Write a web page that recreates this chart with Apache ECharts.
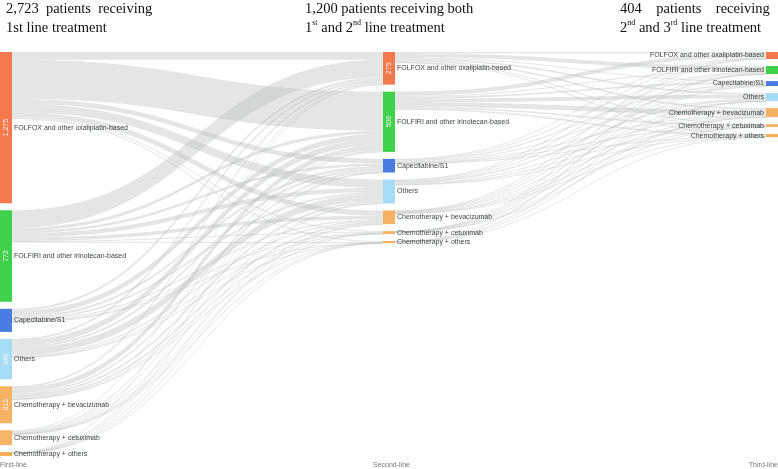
<!DOCTYPE html>
<html>
<head>
<meta charset="utf-8">
<script src="https://cdn.jsdelivr.net/npm/echarts@6/dist/echarts.min.js"></script>
<style>html,body{margin:0;padding:0;background:#fff;}#c{width:778px;height:469px;}</style>
</head>
<body>
<div id="c"></div>
<script>
// Categories (same for each line of treatment)
var categories = [
  "FOLFOX and other oxaliplatin-based",
  "FOLFIRI and other irinotecan-based",
  "Capecitabine/S1",
  "Others",
  "Chemotherapy + bevacizumab",
  "Chemotherapy + cetuximab",
  "Chemotherapy + others"
];
var categoryColors = ["#f47a4d", "#3fd14c", "#4a7de0", "#a6dcf6", "#f6b264", "#f6b466", "#f5ae52"];
var lineNames = ["First-line", "Second-line", "Third-line"];

// Node totals per line
var firstLineValues = [1275, 772, 195, 340, 312, 125, 33];
// Printed values inside nodes
var firstLineLabels = ["1,275", "772", "", "340", "312", "", ""];
var secondLineLabels = ["275", "506", "", "", "", "", ""];
var thirdLineLabels = ["", "", "", "", "", "", ""];

// Flows first line -> second line (rows: first-line category, cols: second-line category)
var flows12 = [
  [65, 330, 40, 70, 45, 8, 7],
  [150, 25, 20, 35, 30, 5, 3],
  [20, 45, 20, 15, 10, 2, 1],
  [15, 50, 15, 60, 10, 3, 2],
  [15, 45, 15, 15, 15, 3, 2],
  [8, 10, 4, 5, 4, 4, 1],
  [2, 3, 1, 2, 1, 0, 1]
];
// Flows second line -> third line
var flows23 = [
  [10, 35, 8, 15, 15, 4, 4],
  [35, 10, 15, 30, 40, 12, 12],
  [5, 8, 10, 5, 5, 2, 2],
  [5, 8, 5, 12, 8, 3, 3],
  [3, 5, 3, 4, 6, 3, 3],
  [1, 1, 1, 1, 1, 1, 0],
  [0, 1, 0, 1, 1, 0, 1]
];

var titleLines = [
  ["2,723  patients  receiving", "1st line treatment"],
  ["1,200 patients receiving both", "1{s|st} and 2{s|nd} line treatment"],
  ["404    patients    receiving    1{s|st},", "2{s|nd} and 3{s|rd} line treatment"]
];

var valueLabels = [firstLineLabels, secondLineLabels, thirdLineLabels];
function buildNodes(withSideLabel) {
  var arr = [];
  for (var d = 0; d < 3; d++) {
    for (var i = 0; i < categories.length; i++) {
      var n = {
        name: d + ":" + categories[i],
        display: categories[i],
        valueText: valueLabels[d][i],
        depth: d,
        itemStyle: { color: withSideLabel ? categoryColors[i] : "rgba(0,0,0,0)" }
      };
      if (withSideLabel) n.label = { position: d === 2 ? "left" : "right" };
      if (d === 0) n.value = firstLineValues[i];
      arr.push(n);
    }
  }
  return arr;
}
var links = [];
function addLinks(mat, d) {
  for (var s = 0; s < mat.length; s++) {
    for (var t = 0; t < mat[s].length; t++) {
      if (mat[s][t] > 0) {
        links.push({ source: d + ":" + categories[s], target: (d + 1) + ":" + categories[t], value: mat[s][t] });
      }
    }
  }
}
addLinks(flows12, 0);
addLinks(flows23, 1);

var sankeyBase = {
  type: "sankey",
  left: 0, right: 0, top: 52, bottom: 13,
  nodeWidth: 12,
  nodeGap: 7,
  layoutIterations: 0,
  draggable: false,
  emphasis: { disabled: true },
  links: links
};

var s1 = Object.assign({}, sankeyBase, {
  data: buildNodes(true),
  lineStyle: { color: "#bcc3bf", opacity: 0.42, curveness: 0.5 },
  itemStyle: { borderWidth: 0 },
  label: {
    show: true,
    fontFamily: "Liberation Sans, Arial, sans-serif",
    fontSize: 7,
    color: "#3c4444",
    distance: 2,
    formatter: function (p) { return p.data.display; }
  }
});
var s2 = Object.assign({}, sankeyBase, {
  data: buildNodes(false),
  silent: true,
  lineStyle: { opacity: 0 },
  itemStyle: { borderWidth: 0 },
  label: {
    show: true,
    position: "inside",
    rotate: 90,
    fontFamily: "Liberation Sans, Arial, sans-serif",
    fontSize: 7,
    color: "rgba(255,255,255,0.9)",
    formatter: function (p) { return p.data.valueText || ""; }
  }
});

var titleX = [6, 305, 620];
var titles = [];
for (var k = 0; k < 3; k++) {
  titles.push({
    left: titleX[k], top: 0, padding: 0,
    text: titleLines[k][0] + "\n" + titleLines[k][1],
    textStyle: {
      fontFamily: "Liberation Serif, Times New Roman, serif",
      fontWeight: "normal",
      fontSize: 14.5,
      lineHeight: 19,
      color: "#111",
      rich: {
        s: { fontFamily: "Liberation Serif, Times New Roman, serif", fontSize: 8, lineHeight: 12, verticalAlign: "top", color: "#111" }
      }
    }
  });
}
var bottomPos = [{ left: 0 }, { left: 373 }, { right: 0 }];
for (var b = 0; b < 3; b++) {
  titles.push(Object.assign({
    bottom: 0, padding: 0,
    text: lineNames[b],
    textStyle: { fontFamily: "Liberation Sans, Arial, sans-serif", fontWeight: "normal", fontSize: 7, color: "#777" }
  }, bottomPos[b]));
}

var chart = echarts.init(document.getElementById("c"), null, { renderer: "canvas" });
chart.setOption({
  backgroundColor: "#fff",
  animation: false,
  title: titles,
  series: [s1, s2]
});
</script>
</body>
</html>
